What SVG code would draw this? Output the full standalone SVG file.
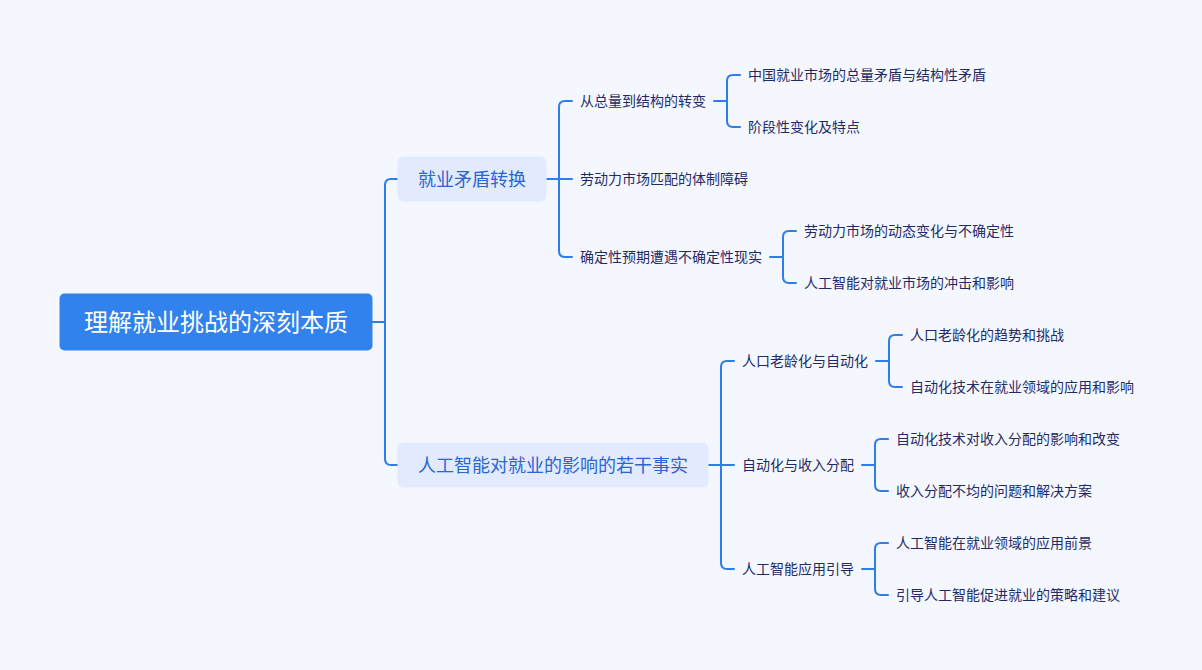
<svg xmlns="http://www.w3.org/2000/svg" width="1202" height="670" viewBox="0 0 1202 670">
<style>
text{font-family:"Noto Sans CJK SC","Noto Sans",sans-serif;}
.c{fill:none;stroke:#2f7de8;stroke-width:2;stroke-linecap:round;stroke-linejoin:round;}
.root{fill:#3182ec;}
.rt{fill:#ffffff;font-size:24px;text-anchor:middle;}
.l1{fill:#e2eafd;}
.l1t{fill:#2a66d2;font-size:18px;text-anchor:middle;}
.t{fill:#1f2b66;font-size:14px;}
</style>
<rect width="1202" height="670" fill="#f5f7fe"/>
<g id="connectors">
<path class="c" d="M372,322 H385"/>
<path class="c" d="M385,322 V185 Q385,179 391,179 H398"/>
<path class="c" d="M385,322 V459 Q385,465 391,465 H398"/>
<path class="c" d="M546,179 H572"/>
<path class="c" d="M559,179 V107 Q559,101 565,101 H572"/>
<path class="c" d="M559,179 V251 Q559,257 565,257 H572"/>
<path class="c" d="M714,101 H727"/>
<path class="c" d="M727,101 V81 Q727,75 733,75 H740"/>
<path class="c" d="M727,101 V121 Q727,127 733,127 H740"/>
<path class="c" d="M770,257 H783"/>
<path class="c" d="M783,257 V237 Q783,231 789,231 H796"/>
<path class="c" d="M783,257 V277 Q783,283 789,283 H796"/>
<path class="c" d="M708,465 H734"/>
<path class="c" d="M721,465 V367 Q721,361 727,361 H734"/>
<path class="c" d="M721,465 V563 Q721,569 727,569 H734"/>
<path class="c" d="M876,361 H889"/>
<path class="c" d="M889,361 V341 Q889,335 895,335 H902"/>
<path class="c" d="M889,361 V381 Q889,387 895,387 H902"/>
<path class="c" d="M862,465 H875"/>
<path class="c" d="M875,465 V445 Q875,439 881,439 H888"/>
<path class="c" d="M875,465 V485 Q875,491 881,491 H888"/>
<path class="c" d="M862,569 H875"/>
<path class="c" d="M875,569 V549 Q875,543 881,543 H888"/>
<path class="c" d="M875,569 V589 Q875,595 881,595 H888"/>
</g>
<g id="root">
<rect class="root" x="59.5" y="293.5" width="313" height="57" rx="5"/>
<text class="rt" x="216" y="331">理解就业挑战的深刻本质</text>
</g>
<g id="n1">
<rect class="l1" x="397.5" y="156.5" width="149" height="45" rx="6"/>
<text class="l1t" x="472" y="185.8">就业矛盾转换</text>
</g>
<g id="n2">
<rect class="l1" x="397.5" y="442.5" width="311" height="45" rx="6"/>
<text class="l1t" x="553" y="471.8">人工智能对就业的影响的若干事实</text>
</g>
<g id="n1-1"><text class="t" x="580" y="106.3">从总量到结构的转变</text></g>
<g id="n1-1-1"><text class="t" x="748" y="80.3">中国就业市场的总量矛盾与结构性矛盾</text></g>
<g id="n1-1-2"><text class="t" x="748" y="132.3">阶段性变化及特点</text></g>
<g id="n1-2"><text class="t" x="580" y="184.3">劳动力市场匹配的体制障碍</text></g>
<g id="n1-3"><text class="t" x="580" y="262.3">确定性预期遭遇不确定性现实</text></g>
<g id="n1-3-1"><text class="t" x="804" y="236.3">劳动力市场的动态变化与不确定性</text></g>
<g id="n1-3-2"><text class="t" x="804" y="288.3">人工智能对就业市场的冲击和影响</text></g>
<g id="n2-1"><text class="t" x="742" y="366.3">人口老龄化与自动化</text></g>
<g id="n2-1-1"><text class="t" x="910" y="340.3">人口老龄化的趋势和挑战</text></g>
<g id="n2-1-2"><text class="t" x="910" y="392.3">自动化技术在就业领域的应用和影响</text></g>
<g id="n2-2"><text class="t" x="742" y="470.3">自动化与收入分配</text></g>
<g id="n2-2-1"><text class="t" x="896" y="444.3">自动化技术对收入分配的影响和改变</text></g>
<g id="n2-2-2"><text class="t" x="896" y="496.3">收入分配不均的问题和解决方案</text></g>
<g id="n2-3"><text class="t" x="742" y="574.3">人工智能应用引导</text></g>
<g id="n2-3-1"><text class="t" x="896" y="548.3">人工智能在就业领域的应用前景</text></g>
<g id="n2-3-2"><text class="t" x="896" y="600.3">引导人工智能促进就业的策略和建议</text></g>
</svg>
